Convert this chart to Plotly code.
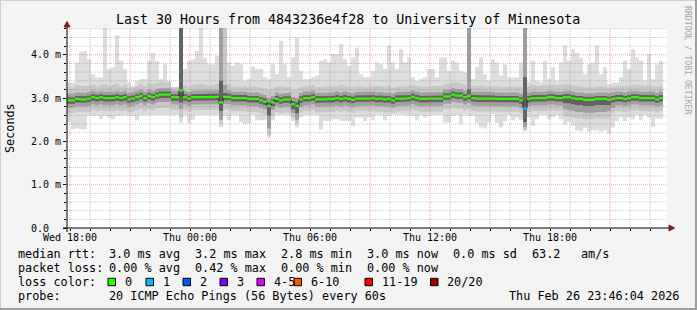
import plotly.graph_objects as go
import pandas as pd

# ---------------- data (values in ms, 12-minute steps) ----------------
start_time = "2026-02-25 17:51"
step_minutes = 12

median = [2.95, 2.95, 2.98, 2.97, 2.97, 2.99, 3.02, 3.00, 3.02, 3.00,
          3.00, 3.00, 3.02, 3.00, 3.02, 2.97, 2.99, 3.02, 3.05, 3.00,
          3.05, 3.02, 3.06, 3.08, 3.08, 3.08, 3.02, 3.02, 3.18, 3.02,
          2.99, 3.02, 3.02, 3.02, 3.02, 3.02, 3.02, 3.03, 2.90, 3.03,
          3.03, 3.00, 3.00, 3.00, 3.00, 2.98, 2.98, 2.98, 2.95, 2.92,
          2.82, 2.90, 2.98, 2.95, 2.97, 2.97, 2.86, 2.82, 2.97, 3.00,
          3.00, 3.02, 2.97, 2.97, 2.97, 2.98, 2.98, 3.00, 2.98, 3.00,
          2.98, 2.96, 2.99, 2.99, 2.99, 2.99, 3.00, 2.98, 2.99, 2.97,
          2.98, 2.95, 2.99, 2.99, 2.99, 3.00, 3.03, 3.00, 2.98, 2.98,
          2.99, 2.99, 2.99, 2.99, 3.04, 3.04, 3.08, 3.06, 3.06, 3.02,
          3.05, 3.00, 2.99, 2.99, 2.99, 2.99, 2.99, 2.98, 2.98, 2.98,
          2.98, 2.98, 2.98, 2.95, 2.76, 2.98, 3.00, 3.00, 3.00, 3.00,
          3.02, 3.02, 3.00, 3.00, 3.02, 3.02, 3.00, 2.98, 2.98, 2.96,
          2.96, 2.96, 2.98, 2.98, 2.98, 2.96, 2.98, 3.00, 3.00, 2.98,
          3.00, 3.02, 3.02, 3.00, 3.00, 3.00, 3.00, 2.97, 3.00]

loss = [0] * 114 + [1] + [0] * 34

# outermost smoke (lightest)
hi1 = [3.36, 3.36, 3.82, 4.07, 4.09, 3.90, 3.55, 3.48, 3.48, 5.00,
       3.67, 3.71, 4.45, 3.86, 3.67, 3.36, 3.28, 3.40, 3.44, 3.44,
       3.86, 4.05, 3.86, 3.44, 3.78, 3.40, 3.25, 3.25, 5.00, 3.67,
       3.86, 3.90, 4.09, 5.00, 3.94, 3.78, 3.78, 3.98, 5.00, 5.00,
       3.82, 3.75, 3.82, 3.78, 3.40, 3.44, 3.73, 3.67, 3.67, 3.48,
       3.44, 3.78, 3.55, 4.32, 3.78, 3.48, 3.94, 4.40, 3.63, 3.44,
       3.44, 3.48, 3.52, 3.86, 3.90, 3.82, 4.02, 4.02, 4.25, 3.90,
       3.75, 3.94, 4.17, 3.55, 3.48, 3.48, 3.63, 3.82, 3.78, 3.67,
       4.21, 3.82, 3.67, 4.13, 3.82, 3.94, 3.48, 3.40, 3.44, 3.48,
       3.67, 3.67, 3.48, 3.94, 3.94, 3.63, 3.86, 3.82, 3.63, 3.59,
       5.00, 3.44, 3.71, 3.94, 3.55, 3.40, 3.90, 3.82, 3.52, 3.78,
       3.48, 3.48, 3.48, 3.82, 5.00, 3.36, 3.86, 3.40, 3.36, 3.86,
       3.44, 3.71, 3.40, 3.82, 4.21, 3.86, 4.13, 4.05, 3.94, 3.55,
       3.78, 3.82, 4.21, 3.55, 3.71, 3.32, 3.36, 3.36, 3.48, 3.86,
       3.67, 4.13, 3.94, 3.86, 3.40, 4.02, 3.44, 3.78, 3.86]
lo1 = [2.45, 2.28, 2.30, 2.28, 2.28, 2.59, 2.59, 2.59, 2.51, 2.59,
       2.55, 2.51, 2.59, 2.59, 2.61, 2.59, 2.59, 2.49, 2.61, 2.61,
       2.61, 2.61, 2.61, 2.61, 2.61, 2.61, 2.61, 2.61, 2.43, 2.61,
       2.42, 2.50, 2.61, 2.61, 2.61, 2.61, 2.61, 2.61, 2.33, 2.59,
       2.49, 2.61, 2.61, 2.45, 2.40, 2.42, 2.61, 2.49, 2.49, 2.49,
       2.09, 2.49, 2.61, 2.61, 2.61, 2.61, 2.47, 2.32, 2.56, 2.61,
       2.61, 2.61, 2.61, 2.28, 2.47, 2.47, 2.51, 2.51, 2.47, 2.47,
       2.47, 2.36, 2.55, 2.55, 2.47, 2.56, 2.49, 2.61, 2.61, 2.49,
       2.59, 2.62, 2.61, 2.62, 2.61, 2.59, 2.59, 2.49, 2.61, 2.55,
       2.59, 2.61, 2.61, 2.61, 2.43, 2.43, 2.59, 2.61, 2.41, 2.62,
       2.59, 2.59, 2.43, 2.32, 2.30, 2.43, 2.64, 2.43, 2.32, 2.47,
       2.61, 2.49, 2.55, 2.49, 2.24, 2.56, 2.36, 2.51, 2.61, 2.61,
       2.51, 2.56, 2.61, 2.51, 2.39, 2.45, 2.36, 2.26, 2.24, 2.32,
       2.23, 2.26, 2.25, 2.23, 2.26, 2.18, 2.32, 2.47, 2.56, 2.47,
       2.55, 2.51, 2.61, 2.49, 2.61, 2.55, 2.33, 2.53, 2.53]

hi2 = [3.22, 3.24, 3.30, 3.28, 3.27, 3.28, 3.30, 3.27, 3.30, 3.32,
       3.28, 3.30, 3.33, 3.27, 3.30, 3.24, 3.25, 3.28, 3.33, 3.28,
       3.34, 3.32, 3.35, 3.38, 3.36, 3.35, 3.25, 3.25, 5.00, 3.30,
       3.27, 3.30, 3.32, 3.33, 3.30, 3.28, 3.30, 3.33, 5.00, 5.00,
       3.32, 3.27, 3.28, 3.28, 3.27, 3.26, 3.28, 3.26, 3.24, 3.22,
       3.18, 3.22, 3.27, 3.26, 3.26, 3.25, 3.18, 3.20, 3.25, 3.28,
       3.28, 3.30, 3.25, 3.26, 3.27, 3.27, 3.28, 3.28, 3.30, 3.28,
       3.26, 3.26, 3.28, 3.27, 3.26, 3.27, 3.28, 3.27, 3.28, 3.26,
       3.29, 3.24, 3.27, 3.28, 3.27, 3.28, 3.30, 3.28, 3.26, 3.27,
       3.27, 3.28, 3.27, 3.28, 3.32, 3.33, 3.37, 3.36, 3.35, 3.31,
       5.00, 3.28, 3.28, 3.29, 3.27, 3.27, 3.28, 3.27, 3.26, 3.27,
       3.27, 3.27, 3.27, 3.26, 5.00, 3.27, 3.30, 3.28, 3.28, 3.30,
       3.31, 3.31, 3.29, 3.30, 3.32, 3.31, 3.30, 3.28, 3.28, 3.25,
       3.26, 3.25, 3.28, 3.27, 3.27, 3.24, 3.27, 3.28, 3.28, 3.28,
       3.29, 3.31, 3.31, 3.29, 3.28, 3.30, 3.28, 3.26, 3.28]
lo2 = [2.65, 2.65, 2.68, 2.67, 2.67, 2.69, 2.72, 2.70, 2.72, 2.70,
       2.70, 2.70, 2.72, 2.70, 2.72, 2.67, 2.69, 2.72, 2.75, 2.70,
       2.75, 2.72, 2.76, 2.78, 2.78, 2.78, 2.72, 2.72, 2.55, 2.72,
       2.69, 2.72, 2.72, 2.72, 2.72, 2.72, 2.72, 2.73, 2.40, 2.73,
       2.73, 2.70, 2.70, 2.70, 2.70, 2.68, 2.68, 2.68, 2.65, 2.62,
       2.15, 2.60, 2.68, 2.65, 2.67, 2.67, 2.56, 2.40, 2.67, 2.70,
       2.70, 2.72, 2.67, 2.67, 2.67, 2.68, 2.68, 2.70, 2.68, 2.70,
       2.68, 2.66, 2.69, 2.69, 2.69, 2.69, 2.70, 2.68, 2.69, 2.67,
       2.68, 2.65, 2.69, 2.69, 2.69, 2.70, 2.73, 2.70, 2.68, 2.68,
       2.69, 2.69, 2.69, 2.69, 2.74, 2.74, 2.78, 2.76, 2.76, 2.72,
       2.75, 2.70, 2.69, 2.69, 2.69, 2.69, 2.69, 2.68, 2.68, 2.68,
       2.68, 2.68, 2.68, 2.65, 2.27, 2.68, 2.70, 2.70, 2.70, 2.70,
       2.72, 2.72, 2.70, 2.70, 2.58, 2.57, 2.55, 2.53, 2.53, 2.51,
       2.51, 2.51, 2.53, 2.53, 2.53, 2.55, 2.66, 2.70, 2.70, 2.68,
       2.70, 2.72, 2.72, 2.70, 2.70, 2.70, 2.70, 2.67, 2.70]

hi3 = [3.10, 3.10, 3.13, 3.12, 3.12, 3.14, 3.17, 3.15, 3.17, 3.15,
       3.15, 3.15, 3.17, 3.15, 3.17, 3.12, 3.14, 3.17, 3.20, 3.15,
       3.20, 3.17, 3.21, 3.23, 3.23, 3.23, 3.17, 3.17, 5.00, 3.17,
       3.14, 3.17, 3.17, 3.17, 3.17, 3.17, 3.17, 3.18, 5.00, 3.30,
       3.18, 3.15, 3.15, 3.15, 3.15, 3.13, 3.13, 3.13, 3.10, 3.07,
       3.00, 3.05, 3.13, 3.10, 3.12, 3.12, 3.02, 3.00, 3.12, 3.15,
       3.15, 3.17, 3.12, 3.12, 3.12, 3.13, 3.13, 3.15, 3.13, 3.15,
       3.13, 3.11, 3.14, 3.14, 3.14, 3.14, 3.15, 3.13, 3.14, 3.12,
       3.13, 3.10, 3.14, 3.14, 3.14, 3.15, 3.18, 3.15, 3.13, 3.13,
       3.14, 3.14, 3.14, 3.14, 3.19, 3.19, 3.23, 3.21, 3.21, 3.17,
       5.00, 3.15, 3.14, 3.14, 3.14, 3.14, 3.14, 3.13, 3.13, 3.13,
       3.13, 3.13, 3.13, 3.10, 5.00, 3.13, 3.15, 3.15, 3.15, 3.15,
       3.17, 3.17, 3.15, 3.15, 3.17, 3.17, 3.15, 3.13, 3.13, 3.11,
       3.11, 3.11, 3.13, 3.13, 3.13, 3.11, 3.13, 3.15, 3.15, 3.13,
       3.15, 3.17, 3.17, 3.15, 3.15, 3.15, 3.15, 3.12, 3.15]
lo3 = [2.78, 2.78, 2.81, 2.80, 2.80, 2.82, 2.85, 2.83, 2.85, 2.83,
       2.83, 2.83, 2.85, 2.83, 2.85, 2.80, 2.82, 2.85, 2.88, 2.83,
       2.88, 2.85, 2.89, 2.91, 2.91, 2.91, 2.85, 2.85, 2.75, 2.85,
       2.82, 2.85, 2.85, 2.85, 2.85, 2.85, 2.85, 2.86, 2.50, 2.86,
       2.86, 2.83, 2.83, 2.83, 2.83, 2.81, 2.81, 2.81, 2.78, 2.75,
       2.30, 2.73, 2.81, 2.78, 2.80, 2.80, 2.65, 2.50, 2.80, 2.83,
       2.83, 2.85, 2.80, 2.80, 2.80, 2.81, 2.81, 2.83, 2.81, 2.83,
       2.81, 2.79, 2.82, 2.82, 2.82, 2.82, 2.83, 2.81, 2.82, 2.80,
       2.81, 2.78, 2.82, 2.82, 2.82, 2.83, 2.86, 2.83, 2.81, 2.81,
       2.82, 2.82, 2.82, 2.82, 2.87, 2.87, 2.91, 2.89, 2.89, 2.85,
       2.88, 2.83, 2.82, 2.82, 2.82, 2.82, 2.82, 2.81, 2.81, 2.81,
       2.81, 2.81, 2.81, 2.78, 2.33, 2.81, 2.83, 2.83, 2.83, 2.83,
       2.85, 2.85, 2.83, 2.83, 2.74, 2.72, 2.70, 2.68, 2.68, 2.66,
       2.66, 2.66, 2.68, 2.68, 2.68, 2.70, 2.78, 2.83, 2.83, 2.81,
       2.83, 2.85, 2.85, 2.83, 2.83, 2.83, 2.83, 2.80, 2.83]

hi4 = [3.02, 3.02, 3.05, 3.04, 3.04, 3.06, 3.09, 3.07, 3.09, 3.07,
       3.07, 3.07, 3.09, 3.07, 3.09, 3.04, 3.06, 3.09, 3.12, 3.07,
       3.12, 3.09, 3.13, 3.15, 3.15, 3.15, 3.09, 3.09, 5.00, 3.09,
       3.06, 3.09, 3.09, 3.09, 3.09, 3.09, 3.09, 3.10, 3.40, 3.12,
       3.10, 3.07, 3.07, 3.07, 3.07, 3.05, 3.05, 3.05, 3.02, 2.99,
       2.90, 2.97, 3.05, 3.02, 3.04, 3.04, 2.93, 2.90, 3.04, 3.07,
       3.07, 3.09, 3.04, 3.04, 3.04, 3.05, 3.05, 3.07, 3.05, 3.07,
       3.05, 3.03, 3.06, 3.06, 3.06, 3.06, 3.07, 3.05, 3.06, 3.04,
       3.05, 3.02, 3.06, 3.06, 3.06, 3.07, 3.10, 3.07, 3.05, 3.05,
       3.06, 3.06, 3.06, 3.06, 3.11, 3.11, 3.15, 3.13, 3.13, 3.09,
       3.20, 3.07, 3.06, 3.06, 3.06, 3.06, 3.06, 3.05, 3.05, 3.05,
       3.05, 3.05, 3.05, 3.02, 3.48, 3.05, 3.07, 3.07, 3.07, 3.07,
       3.09, 3.09, 3.07, 3.07, 3.09, 3.09, 3.07, 3.05, 3.05, 3.03,
       3.03, 3.03, 3.05, 3.05, 3.05, 3.03, 3.05, 3.07, 3.07, 3.05,
       3.07, 3.09, 3.09, 3.07, 3.07, 3.07, 3.07, 3.04, 3.07]
lo4 = [2.87, 2.87, 2.90, 2.89, 2.89, 2.91, 2.94, 2.92, 2.94, 2.92,
       2.92, 2.92, 2.94, 2.92, 2.94, 2.89, 2.91, 2.94, 2.97, 2.92,
       2.97, 2.94, 2.98, 3.00, 3.00, 3.00, 2.94, 2.94, 2.90, 2.94,
       2.91, 2.94, 2.94, 2.94, 2.94, 2.94, 2.94, 2.95, 2.70, 2.95,
       2.95, 2.92, 2.92, 2.92, 2.92, 2.90, 2.90, 2.90, 2.87, 2.84,
       2.60, 2.82, 2.90, 2.87, 2.89, 2.89, 2.74, 2.65, 2.89, 2.92,
       2.92, 2.94, 2.89, 2.89, 2.89, 2.90, 2.90, 2.92, 2.90, 2.92,
       2.90, 2.88, 2.91, 2.91, 2.91, 2.91, 2.92, 2.90, 2.91, 2.89,
       2.90, 2.87, 2.91, 2.91, 2.91, 2.92, 2.95, 2.92, 2.90, 2.90,
       2.91, 2.91, 2.91, 2.91, 2.96, 2.96, 3.00, 2.98, 2.98, 2.94,
       2.97, 2.92, 2.91, 2.91, 2.91, 2.91, 2.91, 2.90, 2.90, 2.90,
       2.90, 2.90, 2.90, 2.87, 2.45, 2.90, 2.92, 2.92, 2.92, 2.92,
       2.94, 2.94, 2.92, 2.92, 2.88, 2.88, 2.86, 2.84, 2.84, 2.82,
       2.82, 2.82, 2.84, 2.84, 2.84, 2.84, 2.90, 2.92, 2.92, 2.90,
       2.92, 2.94, 2.94, 2.92, 2.92, 2.92, 2.92, 2.89, 2.92]

y_tick_values = [0, 1, 2, 3, 4]
y_tick_labels = ["0.0\u00a0\u00a0", "1.0 m", "2.0 m", "3.0 m", "4.0 m"]

title_text = "Last 30 Hours from 4843236e4f28 to University of Minnesota"
median_stats = ["3.0 ms avg", "3.2 ms max", "2.8 ms min", "3.0 ms now", "0.0 ms sd", "63.2", "am/s"]
loss_stats = ["0.00 % avg", "0.42 % max", "0.00 % min", "0.00 % now"]
loss_labels = ["0", "1", "2", "3", "4-5", "6-10", "11-19", "20/20"]
loss_colors = ["#26ff00", "#00b8ff", "#0059ff", "#7e00ff", "#dd00ff", "#ff5500", "#ff0000", "#a10000"]
probe_text = "20 ICMP Echo Pings (56 Bytes) every 60s"
stamp_text = "Thu Feb 26 23:46:04 2026"

# ---------------- geometry helpers ----------------
W, H = 697, 310
L, R, T, B = 67, 667, 28, 228
PW, PH = R - L, B - T
PX_PER_MS = 43.3
YMAX = PH / PX_PER_MS
MONO = "DejaVu Sans Mono"


def px(x):
    return (x - L) / PW


def py(y):
    return (B - y) / PH


n = len(median)
t0 = pd.Timestamp(start_time)
step = pd.Timedelta(minutes=step_minutes)
times = [(t0 + step * k).strftime("%Y-%m-%d %H:%M:%S") for k in range(n + 1)]
x_end = (t0 + pd.Timedelta(hours=30)).strftime("%Y-%m-%d %H:%M:%S")


def step_polygon(lo, hi):
    """Closed step-shaped outline (upper edge forward, lower edge back)."""
    xs, ys = [], []
    for k in range(n):
        xs += [times[k], times[k + 1]]
        ys += [hi[k], hi[k]]
    for k in range(n - 1, -1, -1):
        xs += [times[k + 1], times[k]]
        ys += [lo[k], lo[k]]
    xs.append(times[0])
    ys.append(hi[0])
    return xs, ys


fig = go.Figure()

bands = [(lo1, hi1, "#dddddd"), (lo2, hi2, "#c8c8c8"), (lo3, hi3, "#a0a0a0"), (lo4, hi4, "#626262")]
for lo, hi, col in bands:
    bx, by = step_polygon(lo, hi)
    fig.add_trace(go.Scatter(x=bx, y=by, mode="lines", fill="toself", fillcolor=col,
                             line=dict(width=0, color=col), showlegend=False, hoverinfo="skip"))

# dark median line
fig.add_trace(go.Scatter(x=times, y=median + [median[-1]], mode="lines",
                         line=dict(color="#202020", width=1, shape="hv"),
                         showlegend=False, hoverinfo="skip"))

# coloured median bars (loss colour), one trace per colour
sw = 0.026
for ci, col in enumerate(loss_colors):
    mx, my = [], []
    for k in range(n):
        if min(loss[k], 7) != ci:
            continue
        a, b = times[k], times[k + 1]
        lo_v, hi_v = median[k] - sw, median[k] + sw
        mx += [a, b, b, a, a, None]
        my += [lo_v, lo_v, hi_v, hi_v, lo_v, None]
    if mx:
        fig.add_trace(go.Scatter(x=mx, y=my, mode="lines", fill="toself", fillcolor=col,
                                 line=dict(width=0, color=col), showlegend=False, hoverinfo="skip"))

shapes = []
grid_major = "rgba(240,90,90,0.55)"
grid_minor = "rgba(130,130,130,0.45)"
for h in range(30):
    t = (pd.Timestamp("2026-02-25 18:00") + pd.Timedelta(hours=h)).strftime("%Y-%m-%d %H:%M:%S")
    shapes.append(dict(type="line", xref="x", yref="paper", x0=t, x1=t, y0=0, y1=1, layer="above",
                       line=dict(color=grid_major if h % 3 == 0 else grid_minor, width=1, dash="1px,1px")))
for i in range(1, 24):
    v = i * 0.2
    shapes.append(dict(type="line", xref="paper", yref="y", x0=0, x1=1, y0=v, y1=v, layer="above",
                       line=dict(color=grid_major if i % 5 == 0 else grid_minor, width=1, dash="1px,1px")))
# axes
shapes.append(dict(type="line", xref="paper", yref="paper", x0=px(63), x1=px(671), y0=0, y1=0, layer="above",
                   line=dict(color="#000000", width=1)))
shapes.append(dict(type="line", xref="paper", yref="paper", x0=0, x1=0, y0=py(232), y1=py(24), layer="above",
                   line=dict(color="#000000", width=1)))
# arrows
arrow_col = "#7f1e1e"
shapes.append(dict(type="path", xref="paper", yref="paper", layer="above", fillcolor=arrow_col,
                   line=dict(color=arrow_col, width=1),
                   path=f"M {px(669)},{py(225)} L {px(674.5)},{py(228)} L {px(669)},{py(231)} Z"))
shapes.append(dict(type="path", xref="paper", yref="paper", layer="above", fillcolor=arrow_col,
                   line=dict(color=arrow_col, width=1),
                   path=f"M {px(64)},{py(27)} L {px(67)},{py(21.5)} L {px(70)},{py(27)} Z"))
# outer frame
shapes.append(dict(type="line", xref="paper", yref="paper", x0=px(0), x1=px(W), y0=py(0.5), y1=py(0.5),
                   line=dict(color="#cfcfcf", width=1)))
shapes.append(dict(type="line", xref="paper", yref="paper", x0=px(0.5), x1=px(0.5), y0=py(0), y1=py(H),
                   line=dict(color="#cfcfcf", width=1)))
shapes.append(dict(type="line", xref="paper", yref="paper", x0=px(0), x1=px(W), y0=py(H - 1), y1=py(H - 1),
                   line=dict(color="#9e9e9e", width=2)))
shapes.append(dict(type="line", xref="paper", yref="paper", x0=px(W - 1), x1=px(W - 1), y0=py(0), y1=py(H),
                   line=dict(color="#9e9e9e", width=2)))

# legend colour boxes
box_left = [108, 146, 183, 220, 257, 294, 365, 430.5]
for bx_, col in zip(box_left, loss_colors):
    shapes.append(dict(type="rect", xref="paper", yref="paper", x0=px(bx_), x1=px(bx_ + 7.5),
                       y0=py(285.7), y1=py(278.3), fillcolor=col, line=dict(color="#000000", width=1)))

ann = []


def text(x, y, s, size=11.8, anchor="left", color="#000000", angle=0):
    ann.append(dict(x=px(x), y=py(y), xref="paper", yref="paper", text=s, showarrow=False,
                    xanchor=anchor, yanchor="middle", textangle=angle,
                    font=dict(family=MONO, size=size, color=color)))


text(348, 19, title_text, size=13.3, anchor="center")
text(10, 128, "Seconds", size=11.8, anchor="center", angle=-90)
text(688, 60, "RRDTOOL / TOBI OETIKER", size=8.2, anchor="center", color="#a6a6a6", angle=90)

text(16, 254, "median rtt:")
for xpos, s in zip([107, 193, 279, 365, 451, 530, 579], median_stats):
    text(xpos, 254, s)
text(16, 268, "packet loss:")
for xpos, s in zip([107, 193, 279, 365], loss_stats):
    text(xpos, 268, s)
text(16, 282, "loss color:")
for bx_, s in zip(box_left, loss_labels):
    text(bx_ + 14.5, 282, s)
text(16, 296, "probe:")
text(107, 296, probe_text)
text(681, 296, stamp_text, anchor="right")

x_tick_vals, x_tick_text = [], []
for h in range(0, 30, 3):
    t = pd.Timestamp("2026-02-25 18:00") + pd.Timedelta(hours=h)
    x_tick_vals.append(t.strftime("%Y-%m-%d %H:%M:%S"))
    x_tick_text.append(t.strftime("%a %H:%M") if h % 6 == 0 else "")

fig.update_layout(
    width=W, height=H, autosize=False,
    margin=dict(l=L, r=W - R, t=T, b=H - B, pad=0),
    paper_bgcolor="#f3f3f3", plot_bgcolor="#ffffff",
    showlegend=False,
    shapes=shapes, annotations=ann,
    xaxis=dict(type="date", range=[times[0], x_end], showgrid=False, zeroline=False, showline=False,
               tickvals=x_tick_vals, ticktext=x_tick_text, ticks="outside", ticklen=2, tickcolor="#000000",
               ticklabelstandoff=-2,
               tickfont=dict(family=MONO, size=10, color="#000000"), fixedrange=True,
               minor=dict(dtick=3600000, tick0="2026-02-25 18:00:00", ticks="outside", ticklen=2,
                          tickcolor="#000000", showgrid=False)),
    yaxis=dict(range=[0, YMAX], showgrid=False, zeroline=False, showline=False,
               tickvals=y_tick_values, ticktext=y_tick_labels, ticks="outside", ticklen=3, tickcolor="#000000",
               tickfont=dict(family=MONO, size=10, color="#000000"), fixedrange=True,
               minor=dict(dtick=0.2, tick0=0, ticks="outside", ticklen=2, tickcolor="#000000", showgrid=False)),
)

fig.write_html("out.html")
